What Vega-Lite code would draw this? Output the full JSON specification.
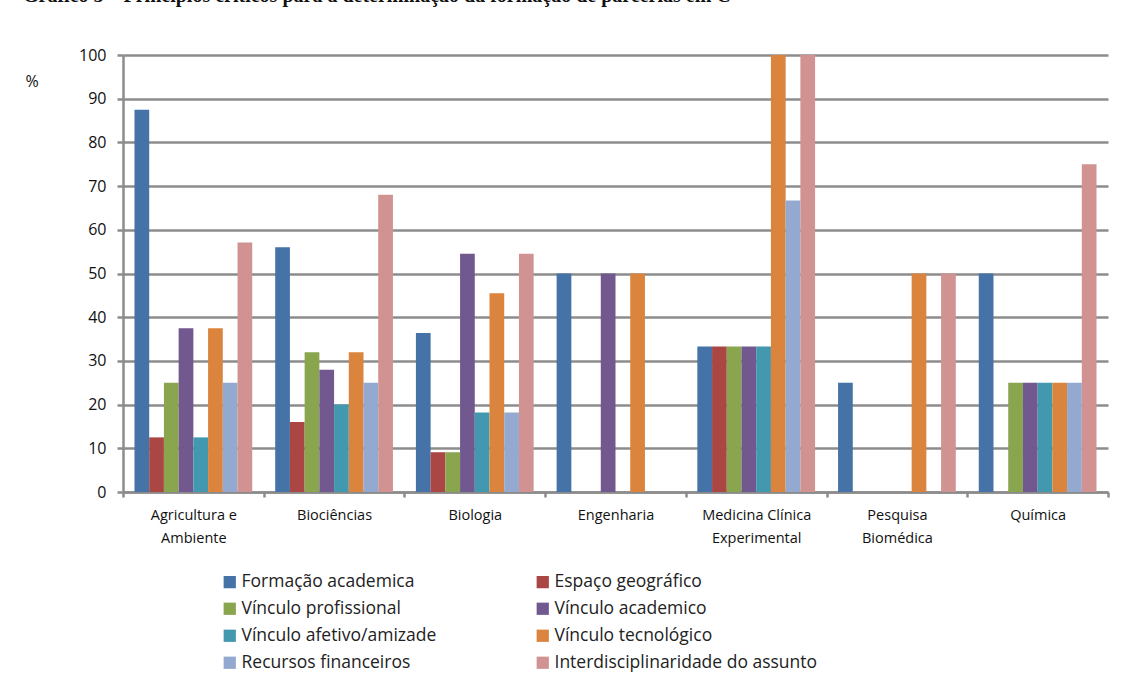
{
  "$schema": "https://vega.github.io/schema/vega-lite/v6.json",
  "width": 985,
  "height": 437,
  "autosize": {"type": "none"},
  "padding": {"left": 123, "top": 55, "right": 30, "bottom": 202},
  "background": "white",
  "title": {
    "text": "Gráfico 5 – Princípios críticos para a determinação da formação de parcerias em C",
    "orient": "top",
    "anchor": "start",
    "frame": "group",
    "font": "Liberation Serif",
    "fontSize": 20,
    "fontWeight": "bold",
    "color": "#111111",
    "baseline": "alphabetic",
    "offset": 0,
    "dx": -100,
    "dy": -25
  },
  "config": {
    "font": "Open Sans",
    "view": {"stroke": null}
  },
  "data": {
    "values": [
      {"area": "Agricultura e Ambiente", "criterio": "Formação academica", "pct": 87.5},
      {"area": "Agricultura e Ambiente", "criterio": "Espaço geográfico", "pct": 12.5},
      {"area": "Agricultura e Ambiente", "criterio": "Vínculo profissional", "pct": 25},
      {"area": "Agricultura e Ambiente", "criterio": "Vínculo academico", "pct": 37.5},
      {"area": "Agricultura e Ambiente", "criterio": "Vínculo afetivo/amizade", "pct": 12.5},
      {"area": "Agricultura e Ambiente", "criterio": "Vínculo tecnológico", "pct": 37.5},
      {"area": "Agricultura e Ambiente", "criterio": "Recursos financeiros", "pct": 25},
      {"area": "Agricultura e Ambiente", "criterio": "Interdisciplinaridade do assunto", "pct": 57.1},

      {"area": "Biociências", "criterio": "Formação academica", "pct": 56},
      {"area": "Biociências", "criterio": "Espaço geográfico", "pct": 16},
      {"area": "Biociências", "criterio": "Vínculo profissional", "pct": 32},
      {"area": "Biociências", "criterio": "Vínculo academico", "pct": 28},
      {"area": "Biociências", "criterio": "Vínculo afetivo/amizade", "pct": 20},
      {"area": "Biociências", "criterio": "Vínculo tecnológico", "pct": 32},
      {"area": "Biociências", "criterio": "Recursos financeiros", "pct": 25},
      {"area": "Biociências", "criterio": "Interdisciplinaridade do assunto", "pct": 68},

      {"area": "Biologia", "criterio": "Formação academica", "pct": 36.4},
      {"area": "Biologia", "criterio": "Espaço geográfico", "pct": 9.1},
      {"area": "Biologia", "criterio": "Vínculo profissional", "pct": 9.1},
      {"area": "Biologia", "criterio": "Vínculo academico", "pct": 54.5},
      {"area": "Biologia", "criterio": "Vínculo afetivo/amizade", "pct": 18.2},
      {"area": "Biologia", "criterio": "Vínculo tecnológico", "pct": 45.5},
      {"area": "Biologia", "criterio": "Recursos financeiros", "pct": 18.2},
      {"area": "Biologia", "criterio": "Interdisciplinaridade do assunto", "pct": 54.5},

      {"area": "Engenharia", "criterio": "Formação academica", "pct": 50},
      {"area": "Engenharia", "criterio": "Espaço geográfico", "pct": 0},
      {"area": "Engenharia", "criterio": "Vínculo profissional", "pct": 0},
      {"area": "Engenharia", "criterio": "Vínculo academico", "pct": 50},
      {"area": "Engenharia", "criterio": "Vínculo afetivo/amizade", "pct": 0},
      {"area": "Engenharia", "criterio": "Vínculo tecnológico", "pct": 50},
      {"area": "Engenharia", "criterio": "Recursos financeiros", "pct": 0},
      {"area": "Engenharia", "criterio": "Interdisciplinaridade do assunto", "pct": 0},

      {"area": "Medicina Clínica Experimental", "criterio": "Formação academica", "pct": 33.3},
      {"area": "Medicina Clínica Experimental", "criterio": "Espaço geográfico", "pct": 33.3},
      {"area": "Medicina Clínica Experimental", "criterio": "Vínculo profissional", "pct": 33.3},
      {"area": "Medicina Clínica Experimental", "criterio": "Vínculo academico", "pct": 33.3},
      {"area": "Medicina Clínica Experimental", "criterio": "Vínculo afetivo/amizade", "pct": 33.3},
      {"area": "Medicina Clínica Experimental", "criterio": "Vínculo tecnológico", "pct": 100},
      {"area": "Medicina Clínica Experimental", "criterio": "Recursos financeiros", "pct": 66.7},
      {"area": "Medicina Clínica Experimental", "criterio": "Interdisciplinaridade do assunto", "pct": 100},

      {"area": "Pesquisa Biomédica", "criterio": "Formação academica", "pct": 25},
      {"area": "Pesquisa Biomédica", "criterio": "Espaço geográfico", "pct": 0},
      {"area": "Pesquisa Biomédica", "criterio": "Vínculo profissional", "pct": 0},
      {"area": "Pesquisa Biomédica", "criterio": "Vínculo academico", "pct": 0},
      {"area": "Pesquisa Biomédica", "criterio": "Vínculo afetivo/amizade", "pct": 0},
      {"area": "Pesquisa Biomédica", "criterio": "Vínculo tecnológico", "pct": 50},
      {"area": "Pesquisa Biomédica", "criterio": "Recursos financeiros", "pct": 0},
      {"area": "Pesquisa Biomédica", "criterio": "Interdisciplinaridade do assunto", "pct": 50},

      {"area": "Química", "criterio": "Formação academica", "pct": 50},
      {"area": "Química", "criterio": "Espaço geográfico", "pct": 0},
      {"area": "Química", "criterio": "Vínculo profissional", "pct": 25},
      {"area": "Química", "criterio": "Vínculo academico", "pct": 25},
      {"area": "Química", "criterio": "Vínculo afetivo/amizade", "pct": 25},
      {"area": "Química", "criterio": "Vínculo tecnológico", "pct": 25},
      {"area": "Química", "criterio": "Recursos financeiros", "pct": 25},
      {"area": "Química", "criterio": "Interdisciplinaridade do assunto", "pct": 75}
    ]
  },
  "mark": {"type": "bar"},
  "encoding": {
    "x": {
      "field": "area",
      "type": "nominal",
      "sort": ["Agricultura e Ambiente", "Biociências", "Biologia", "Engenharia", "Medicina Clínica Experimental", "Pesquisa Biomédica", "Química"],
      "scale": {"paddingInner": 0, "paddingOuter": 0},
      "axis": {
        "title": null,
        "labelAngle": 0,
        "labelFontSize": 14.5,
        "labelColor": "#111111",
        "labelBaseline": "top",
        "labelLineHeight": 23,
        "labelPadding": 11,
        "labelLimit": 0,
        "labelExpr": "datum.label == 'Agricultura e Ambiente' ? ['Agricultura e', 'Ambiente'] : datum.label == 'Medicina Clínica Experimental' ? ['Medicina Clínica', 'Experimental'] : datum.label == 'Pesquisa Biomédica' ? ['Pesquisa', 'Biomédica'] : datum.label",
        "tickBand": "extent",
        "ticks": true,
        "tickSize": 5,
        "tickWidth": 2.5,
        "tickColor": "#8c8c8c",
        "domainColor": "#8c8c8c",
        "domainWidth": 2.5,
        "grid": false
      }
    },
    "xOffset": {
      "field": "criterio",
      "sort": ["Formação academica", "Espaço geográfico", "Vínculo profissional", "Vínculo academico", "Vínculo afetivo/amizade", "Vínculo tecnológico", "Recursos financeiros", "Interdisciplinaridade do assunto"],
      "scale": {"paddingInner": 0, "paddingOuter": 0.78}
    },
    "y": {
      "field": "pct",
      "type": "quantitative",
      "scale": {"domain": [0, 100], "nice": false},
      "axis": {
        "values": [0, 10, 20, 30, 40, 50, 60, 70, 80, 90, 100],
        "title": "%",
        "titleAngle": 0,
        "titleAlign": "left",
        "titleBaseline": "middle",
        "titleX": -98,
        "titleY": 26,
        "titleFontSize": 16,
        "titleFontWeight": "normal",
        "titleColor": "#111111",
        "labelFontSize": 16,
        "labelColor": "#111111",
        "labelPadding": 11,
        "tickSize": 6,
        "tickWidth": 2.5,
        "tickColor": "#8c8c8c",
        "domainColor": "#8c8c8c",
        "domainWidth": 2.5,
        "grid": true,
        "gridColor": "#8c8c8c",
        "gridWidth": 2.5
      }
    },
    "color": {
      "field": "criterio",
      "type": "nominal",
      "scale": {
        "domain": ["Formação academica", "Espaço geográfico", "Vínculo profissional", "Vínculo academico", "Vínculo afetivo/amizade", "Vínculo tecnológico", "Recursos financeiros", "Interdisciplinaridade do assunto"],
        "range": ["#4572A7", "#AA4643", "#89A54E", "#71588F", "#4198AF", "#DB843D", "#93A9CF", "#D19392"]
      },
      "legend": {
        "title": null,
        "orient": "none",
        "direction": "horizontal",
        "legendX": 98,
        "legendY": 518,
        "columns": 2,
        "columnPadding": 97,
        "rowPadding": 8,
        "symbolType": "square",
        "symbolSize": 150,
        "symbolStrokeWidth": 0,
        "symbolOpacity": 1,
        "labelFontSize": 17.5,
        "labelColor": "#222222",
        "labelOffset": 3,
        "labelLimit": 0
      }
    }
  }
}
